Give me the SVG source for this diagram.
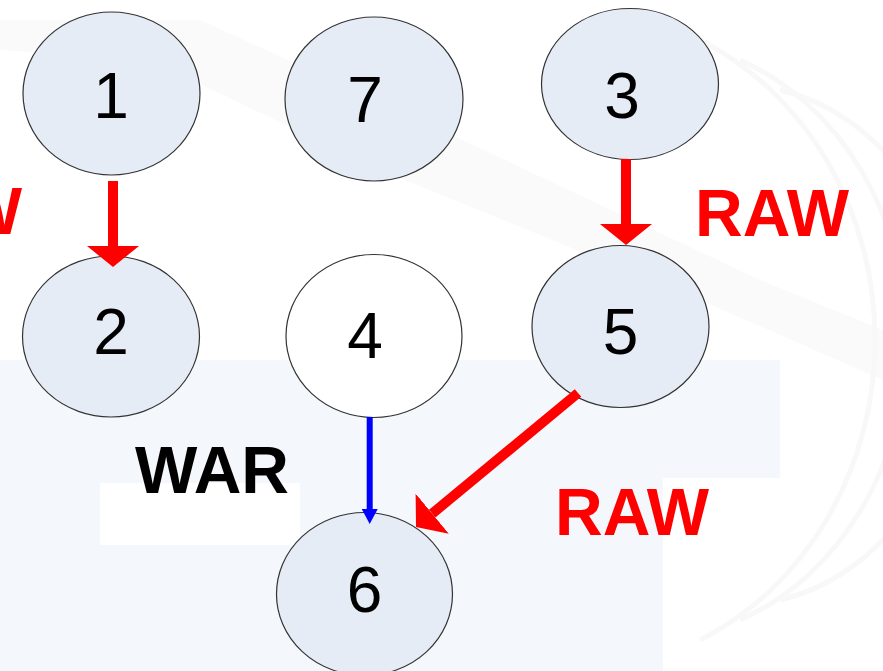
<svg xmlns="http://www.w3.org/2000/svg" width="883" height="671" viewBox="0 0 883 671">
<defs>
<style>
.node{fill:#E6ECF6;stroke:#333333;stroke-width:1.2}
.plain{fill:#FFFFFF;stroke:#333333;stroke-width:1.2}
.num{font-family:"Liberation Sans",Arial,sans-serif;font-size:64px;fill:#000000;text-anchor:middle}
.lbl{font-family:"Liberation Sans",Arial,sans-serif;font-size:66px;font-weight:bold}
.red{stroke:#FF0000;stroke-width:10;fill:none}
.blue{stroke:#0000FF;stroke-width:6;fill:none}
.bg{fill:none;stroke:#F8F8F8;stroke-width:5}
</style>
<marker id="rh" markerUnits="userSpaceOnUse" markerWidth="22" markerHeight="52" refX="0" refY="26" orient="auto" viewBox="0 0 22 52">
<path d="M0,0 L21,26 L0,52 Z" fill="#FF0000"/>
</marker>
<marker id="bh" markerUnits="userSpaceOnUse" markerWidth="16" markerHeight="16" refX="0" refY="8" orient="auto" viewBox="0 0 16 16">
<path d="M0,0 L15,8 L0,16 Z" fill="#0000FF"/>
</marker>
</defs>
<rect width="883" height="671" fill="#FFFFFF"/>
<g id="background">
<polygon points="0,20 200,20 420,120 760,280 883,330 883,380 700,300 380,170 150,60 0,50" fill="#FAFAFA"/>
<rect x="0" y="360" width="780" height="311" fill="#F4F7FB"/>
<rect x="100" y="483" width="200" height="62" fill="#FFFFFF"/>
<rect x="663" y="478" width="117" height="193" fill="#FFFFFF"/>
<path class="bg" d="M700,40 A300,330 0 0 1 700,640"/>
<path class="bg" d="M740,60 A260,300 0 0 1 740,620"/>
<path class="bg" d="M780,90 A220,260 0 0 1 780,600"/>
</g>
<g id="node1"><ellipse class="node" cx="111.5" cy="93.5" rx="88.5" ry="81.5"/><text class="num" x="111" y="118">1</text></g>
<g id="node7"><ellipse class="node" cx="374" cy="99" rx="89" ry="82"/><text class="num" x="365" y="122">7</text></g>
<g id="node3"><ellipse class="node" cx="630" cy="84" rx="88.5" ry="75.5"/><text class="num" x="622" y="118">3</text></g>
<g id="node2"><ellipse class="node" cx="111" cy="336.5" rx="88.5" ry="80.5"/><text class="num" x="111" y="354">2</text></g>
<g id="node4"><ellipse class="plain" cx="374" cy="336" rx="88" ry="81.5"/><text class="num" x="365" y="358">4</text></g>
<g id="node5"><ellipse class="node" cx="620.5" cy="326.5" rx="88.5" ry="81"/><text class="num" x="620.5" y="354">5</text></g>
<g id="node6"><ellipse class="node" cx="364.5" cy="594" rx="88" ry="81.5"/><text class="num" x="364.5" y="612">6</text></g>
<g id="connectors">
<line class="red" x1="113" y1="181" x2="113" y2="246" marker-end="url(#rh)"/>
<line class="red" x1="626" y1="159" x2="626" y2="224" marker-end="url(#rh)"/>
<line class="red" x1="578" y1="393" x2="432.2" y2="513.6" marker-end="url(#rh)"/>
<line class="blue" x1="369.7" y1="417" x2="369.7" y2="509" marker-end="url(#bh)"/>
</g>
<g id="labels">
<text class="lbl" x="22" y="234" fill="#FF0000" text-anchor="end">W</text>
<text class="lbl" x="695" y="236" fill="#FF0000">RAW</text>
<text class="lbl" x="135" y="493" fill="#000000">WAR</text>
<text class="lbl" x="555" y="535" fill="#FF0000">RAW</text>
</g>
</svg>
